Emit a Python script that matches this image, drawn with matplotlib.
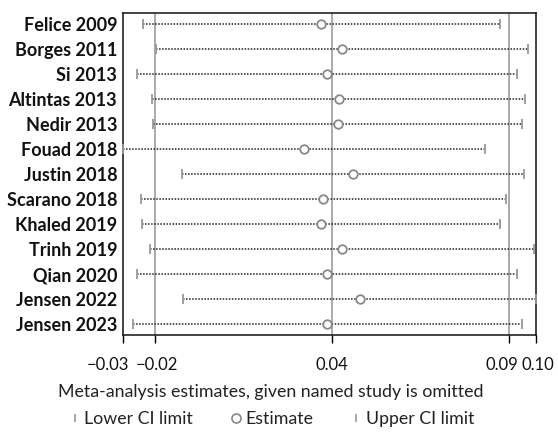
import matplotlib
matplotlib.use("Agg")
import matplotlib.pyplot as plt
from matplotlib.lines import Line2D
from matplotlib.transforms import ScaledTranslation

studies = ["Felice 2009", "Borges 2011", "Si 2013", "Altintas 2013", "Nedir 2013",
           "Fouad 2018", "Justin 2018", "Scarano 2018", "Khaled 2019", "Trinh 2019",
           "Qian 2020", "Jensen 2022", "Jensen 2023"]
estimate = [0.0337, 0.0401, 0.0354, 0.0391, 0.0388, 0.0282, 0.0436, 0.0343, 0.0337,
            0.0401, 0.0356, 0.0458, 0.0355]
lower = [-0.0225, -0.0183, -0.0244, -0.0195, -0.0193, -0.0288, -0.0102, -0.0230, -0.0226,
         -0.0202, -0.0242, -0.0098, -0.0256]
upper = [0.0898, 0.0986, 0.0951, 0.0978, 0.0969, 0.0852, 0.0973, 0.0917, 0.0899,
         0.1007, 0.0951, 0.1012, 0.0967]
overall = [-0.0186, 0.0370, 0.0926]
tick_values = [min(lower), overall[0], overall[1], overall[2], max(upper)]
tick_labels = ["\u22120.03", "\u22120.02", "0.04", "0.09", "0.10"]

plt.rcParams['font.family'] = ['Lato', 'DejaVu Sans']

fig = plt.figure(figsize=(5.58, 4.32), dpi=100)
ax = fig.add_axes([122.7/558, 1-335/432, (536-122.7)/558, (335-13.3)/432])

gray = '#999999'
for v in overall:
    ax.axvline(v, color='#aaaaaa', lw=1.4, zorder=1)

n = len(studies)
ys = [n - i for i in range(n)]
for y, lo, up in zip(ys, lower, upper):
    ax.plot([lo, up], [y, y], color='#222222', lw=1.1, ls=(0, (1, 1)), zorder=2)
ax.scatter(lower, ys, marker='|', s=45, color=gray, linewidths=1.3, zorder=3, clip_on=False)
ax.scatter(upper, ys, marker='|', s=45, color=gray, linewidths=1.3, zorder=3, clip_on=False)
ax.scatter(estimate, ys, marker='o', s=38, facecolor='white', edgecolor='#888888',
           linewidths=1.3, zorder=4)

ax.set_xlim(min(lower), max(upper))
ax.set_ylim(0.57, n + 0.43)
ax.set_yticks(ys)
ax.set_yticklabels(studies, fontsize=13, fontweight='bold', color='#111111')
ax.tick_params(axis='y', length=0, pad=4)
ax.set_xticks(tick_values)
ax.set_xticklabels(tick_labels, fontsize=12, color='#111111')
ax.tick_params(axis='x', length=6, width=1, direction='out', pad=10)
offsets = [-14.7, 2, 0, -6.5, 2]
for lab, dx in zip(ax.get_xticklabels(), offsets):
    lab.set_transform(lab.get_transform() + ScaledTranslation(dx/100, 0, fig.dpi_scale_trans))
for s in ax.spines.values():
    s.set_linewidth(1.1)
    s.set_color('#111111')

fig.text(271/558, 1-392/432, "Meta-analysis estimates, given named study is omitted",
         ha='center', va='center', fontsize=12.8, color='#222222')

handles = [
    Line2D([], [], marker='|', ls='none', color=gray, markersize=6, markeredgewidth=1.2),
    Line2D([], [], marker='o', ls='none', markerfacecolor='white', markeredgecolor='#888888',
           markersize=6.5, markeredgewidth=1.2),
    Line2D([], [], marker='|', ls='none', color=gray, markersize=6, markeredgewidth=1.2),
]
fig.legend(handles, ["Lower CI limit", "Estimate", "Upper CI limit"], ncol=3, frameon=False,
           loc='center', bbox_to_anchor=(271/558, 1-419/432), fontsize=12.8,
           handletextpad=0.15, columnspacing=2.0, handlelength=0.8, labelcolor='#222222',
           borderpad=0, borderaxespad=0)

fig.savefig("out.png", dpi=100)
